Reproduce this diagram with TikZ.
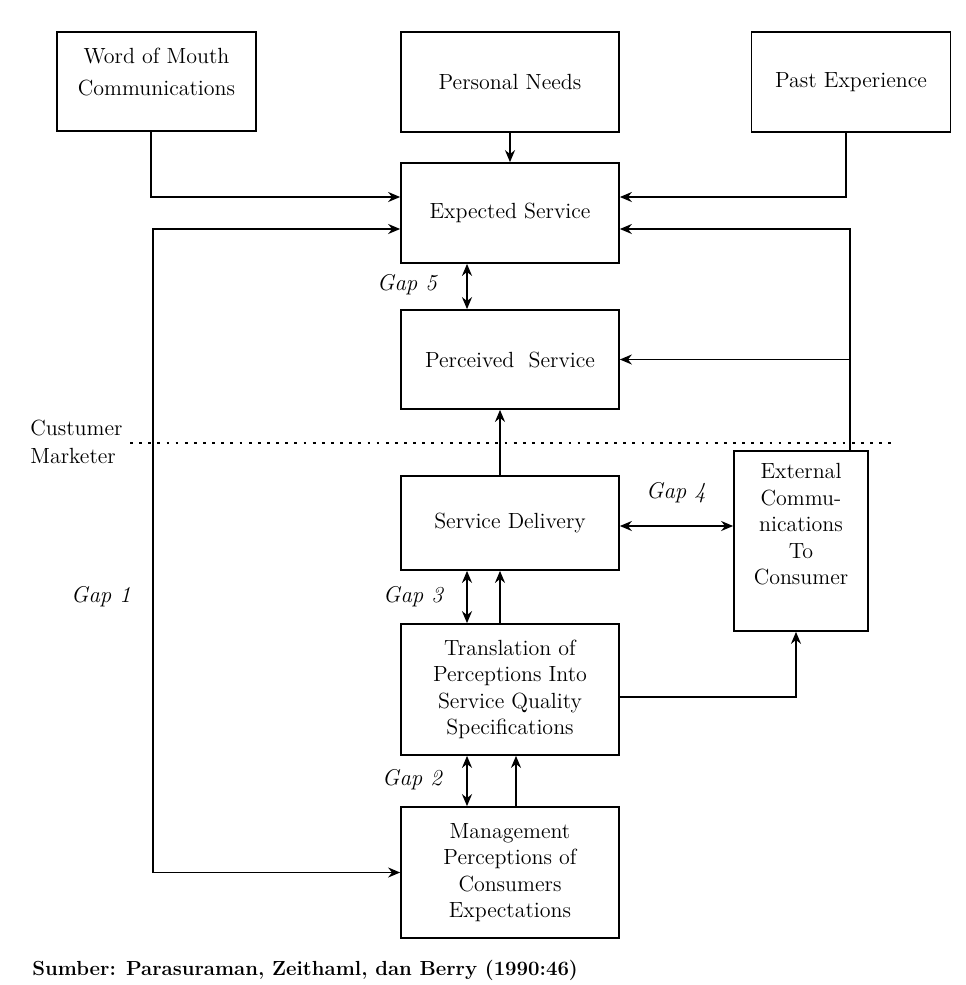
\documentclass[tikz,border=0pt]{standalone}
\usepackage{tikz}
\usetikzlibrary{arrows.meta,calc,positioning}

\begin{document}
\begin{tikzpicture}[x=0.02cm,y=-0.02cm,
  box/.style={draw,line width=1pt,minimum width=4.36cm,minimum height=2cm,align=center,inner sep=2pt},
  arr/.style={line width=1pt,-{Stealth[length=2.4mm,width=2mm]}},
  darr/.style={line width=1pt,{Stealth[length=2.4mm,width=2mm]}-{Stealth[length=2.4mm,width=2mm]}},
  gaplbl/.style={font=\fontsize{13}{15}\selectfont\itshape},
  every node/.style={font=\fontsize{12.5}{15}\selectfont}]
  \useasboundingbox (0,0) rectangle (966,985);
  % top row
  \node[box,minimum width=3.98cm,minimum height=1.98cm] (wom) at (156.5,81.5) {Word of Mouth\\[3pt]Communications\\[-4pt]};
  \node[box] (needs) at (510,82) {Personal Needs};
  \node[box,minimum width=3.98cm] (past) at (851,82) {Past Experience};
  % customer side
  \node[box] (exp) at (510,213) {Expected Service};
  \node[box,minimum height=1.98cm] (perc) at (510,359.5) {Perceived\ \ Service};
  % marketer side
  \node[box,minimum height=1.88cm] (deliv) at (510,523) {Service Delivery};
  \node[box,minimum width=2.68cm,minimum height=3.6cm] (ext) at (801,541)
    {External\\Commu-\\nications\\To\\Consumer\\[0.8ex]};
  \node[box,minimum height=2.62cm] (trans) at (510,689.5)
    {Translation of\\Perceptions Into\\Service Quality\\Specifications};
  \node[box,minimum height=2.62cm] (mgmt) at (510,872.5)
    {Management\\Perceptions of\\Consumers\\Expectations};
  % dividing line
  \node[anchor=west,inner sep=0pt] (cust) at (30,428) {Custumer};
  \node[anchor=west,inner sep=0pt] (mark) at (30,456) {Marketer};
  \coordinate (divl) at (130,443);
  \coordinate (divr) at (891,443);
  \draw[line width=1.6pt,dash pattern=on 1.6pt off 3.6pt] (divl) -- (divr);
  % connectors
  \coordinate (extup) at (850,451);
  \coordinate (g1) at (153,600);
  \draw[arr] (wom.south -| 151,0) |- ([yshift=0.32cm]exp.west);
  \draw[arr] (needs.south) -- (exp.north);
  \draw[arr] (past.south -| 846,0) |- ([yshift=0.32cm]exp.east);
  \draw[arr] (extup) |- ([yshift=-0.32cm]exp.east);
  \draw[arr] (extup |- perc.east) -- (perc.east);
  \draw[darr] ([yshift=-0.32cm]exp.west) -| (g1) |- (mgmt.west);
  \draw[darr] ([xshift=-0.86cm]exp.south) -- ([xshift=-0.86cm]perc.north);
  \draw[arr] ([xshift=-0.2cm]deliv.north) -- ([xshift=-0.2cm]perc.south);
  \draw[darr] ([yshift=-0.06cm]deliv.east) -- ([yshift=-0.06cm]deliv.east -| ext.west);
  \draw[darr] ([xshift=-0.86cm]deliv.south) -- ([xshift=-0.86cm]trans.north);
  \draw[arr] ([xshift=-0.2cm]trans.north) -- ([xshift=-0.2cm]deliv.south);
  \draw[arr] ([yshift=-0.15cm]trans.east) -| ([xshift=-0.1cm]ext.south);
  \draw[darr] ([xshift=-0.86cm]trans.south) -- ([xshift=-0.86cm]mgmt.north);
  \draw[arr] ([xshift=0.12cm]mgmt.north) -- ([xshift=0.12cm]trans.south);
  % gap labels
  \node[gaplbl] (gap5) at (407,285) {Gap 5};
  \node[gaplbl] (gap1) at (101,597) {Gap 1};
  \node[gaplbl] (gap3) at (413,597) {Gap 3};
  \node[gaplbl] (gap2) at (412,780) {Gap 2};
  \node[gaplbl] (gap4) at (676,493) {Gap 4};
  % source
  \node[anchor=west,inner sep=0pt,font=\fontsize{11.6}{14}\selectfont\bfseries] (src) at (32,970)
    {Sumber: Parasuraman, Zeithaml, dan Berry (1990:46)};
\end{tikzpicture}
\end{document}
